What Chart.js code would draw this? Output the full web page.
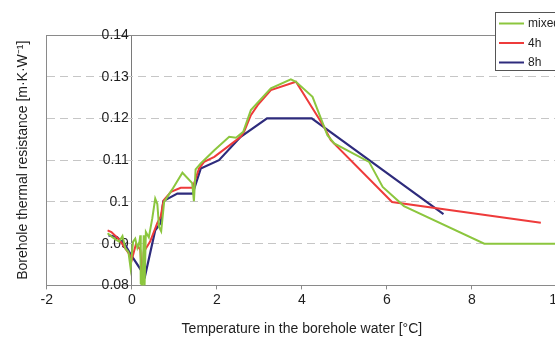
<!DOCTYPE html>
<html>
<head>
<meta charset="utf-8">
<script src="https://cdn.jsdelivr.net/npm/chart.js@4/dist/chart.umd.min.js"></script>
<style>
  html, body { margin: 0; padding: 0; background: #fff; overflow: hidden; }
  #wrap { width: 555px; height: 341px; overflow: hidden; }
</style>
</head>
<body>
<div id="wrap"><canvas id="chart" width="620" height="341"></canvas></div>
<script>
// series: temperature [C] and resistance [m K/W]
var mixedT = [-0.57, -0.45, -0.38, -0.3, -0.22, -0.15, -0.08, -0.03, 0.03, 0.08, 0.13, 0.18, 0.2, 0.21, 0.25, 0.28, 0.3, 0.33, 0.4, 0.48, 0.55, 0.6, 0.64, 0.69, 0.76, 0.95, 1.19, 1.42, 1.46, 1.5, 1.62, 1.94, 2.29, 2.45, 2.62, 2.8, 3.27, 3.74, 3.86, 4.25, 4.6, 4.76, 5.58, 5.9, 6.4, 8.29, 10];
var mixedR = [0.0925, 0.0915, 0.0910, 0.0905, 0.0918, 0.0888, 0.0880, 0.0842, 0.0905, 0.0912, 0.0890, 0.0905, 0.0920, 0.0805, 0.0800, 0.0920, 0.0800, 0.0928, 0.0915, 0.0960, 0.1008, 0.0995, 0.0940, 0.0930, 0.1000, 0.1030, 0.1070, 0.1045, 0.1002, 0.1078, 0.1092, 0.1124, 0.1156, 0.1154, 0.1168, 0.1220, 0.1272, 0.1294, 0.1288, 0.1252, 0.1160, 0.1140, 0.1096, 0.1036, 0.0990, 0.0900, 0.0900];

var h4T = [-0.57, -0.48, -0.3, -0.06, 0.0, 0.1, 0.2, 0.25, 0.28, 0.43, 0.6, 0.68, 0.72, 0.75, 0.92, 1.15, 1.43, 1.58, 1.7, 1.94, 2.25, 2.56, 2.64, 2.8, 2.96, 3.27, 3.86, 4.52, 4.68, 6.12, 9.62];
var h4R = [0.0932, 0.0928, 0.0910, 0.0875, 0.0862, 0.0900, 0.0885, 0.0812, 0.0880, 0.0905, 0.0950, 0.0965, 0.0990, 0.1004, 0.1024, 0.1034, 0.1034, 0.1080, 0.1096, 0.1108, 0.1132, 0.1156, 0.1168, 0.1208, 0.1232, 0.1268, 0.1288, 0.1180, 0.1148, 0.1000, 0.0950];

var h8T = [-0.55, -0.35, -0.15, 0.0, 0.31, 0.55, 0.68, 0.74, 1.07, 1.43, 1.62, 2.05, 2.56, 3.18, 4.23, 7.33];
var h8R = [0.0920, 0.0916, 0.0896, 0.0870, 0.0822, 0.0932, 0.0950, 0.1002, 0.1020, 0.1020, 0.1080, 0.1100, 0.1156, 0.1200, 0.1200, 0.0971];

var seriesNames = ['mixed', '4h', '8h'];
var seriesColors = ['#8cc63e', '#ee3b3b', '#2e2b7c'];

var xTickLabels = ['-2', '0', '2', '4', '6', '8', '10'];
var yTickLabels = ['0.08', '0.09', '0.1', '0.11', '0.12', '0.13', '0.14'];

var xTitle = 'Temperature in the borehole water [\u00B0C]';
var yTitle = 'Borehole thermal resistance [m\u00B7K\u00B7W\u207B\u00B9]';

function toPoints(xs, ys) {
    return xs.map(function(x, i) { return {x: x, y: ys[i]}; });
}

var font = {family: '"Liberation Sans", Arial, sans-serif', size: 14};
var textColor = '#1e1e1e';
var frameColor = '#8a8a8a';
var clear = 'rgba(0,0,0,0)';

// legend box drawn inside the plot, top right, like the original
var boxLegend = {
    id: 'boxLegend',
    afterDraw: function(chart) {
        var ctx = chart.ctx;
        var x = 495.5, y = 12.5, w = 90, h = 58;
        ctx.save();
        ctx.fillStyle = '#fff';
        ctx.fillRect(x, y, w, h);
        ctx.strokeStyle = '#555';
        ctx.lineWidth = 1;
        ctx.strokeRect(x, y, w, h);
        ctx.font = '12px "Liberation Sans", Arial, sans-serif';
        ctx.textBaseline = 'middle';
        chart.data.datasets.forEach(function(ds, i) {
            var ly = 23.5 + i * 19.5;
            ctx.strokeStyle = ds.borderColor;
            ctx.lineWidth = 2;
            ctx.beginPath();
            ctx.moveTo(499, ly);
            ctx.lineTo(524, ly);
            ctx.stroke();
            ctx.fillStyle = textColor;
            ctx.fillText(ds.label, 528, ly + 0.5);
        });
        ctx.restore();
    }
};

new Chart(document.getElementById('chart'), {
    type: 'line',
    data: {
        datasets: [
            {label: seriesNames[0], data: toPoints(mixedT, mixedR), borderColor: seriesColors[0], borderWidth: 2},
            {label: seriesNames[1], data: toPoints(h4T, h4R), borderColor: seriesColors[1], borderWidth: 2},
            {label: seriesNames[2], data: toPoints(h8T, h8R), borderColor: seriesColors[2], borderWidth: 2.2}
        ]
    },
    options: {
        responsive: false,
        animation: false,
        elements: {
            point: {radius: 0},
            line: {tension: 0, fill: false}
        },
        layout: {padding: {left: 1, top: 35, right: 63, bottom: 0}},
        plugins: {
            legend: {display: false},
            tooltip: {enabled: false}
        },
        scales: {
            x: {
                type: 'linear',
                position: 'bottom',
                min: -2,
                max: 10,
                ticks: {
                    stepSize: 2,
                    padding: 2,
                    color: textColor,
                    font: font,
                    maxRotation: 0,
                    callback: function(v, i) { return xTickLabels[i]; }
                },
                // only the vertical line at 0 is drawn, like the crossing axis in the original
                grid: {
                    drawTicks: true,
                    tickLength: 4,
                    tickColor: frameColor,
                    color: function(c) { return c.tick && c.tick.value === 0 ? '#7a7a7a' : clear; }
                },
                border: {color: frameColor, width: 1},
                title: {display: true, text: xTitle, color: textColor, font: font, padding: {top: 11, bottom: 3}}
            },
            xTop: {
                type: 'linear',
                position: 'top',
                min: -2,
                max: 10,
                ticks: {display: false},
                grid: {drawOnChartArea: false, drawTicks: false},
                border: {color: frameColor, width: 1}
            },
            y: {
                type: 'linear',
                position: 'left',
                min: 0.08,
                max: 0.14,
                ticks: {display: false, stepSize: 0.01},
                grid: {
                    drawTicks: false,
                    color: function(c) {
                        var n = yTickLabels.length - 1;
                        return (c.index === 0 || c.index === n) ? clear : '#c6c6c6';
                    }
                },
                border: {color: frameColor, width: 1, dash: [8, 5]},
                title: {display: true, text: yTitle, color: textColor, font: font, padding: {top: 14, bottom: 15}}
            },
            yZero: {
                type: 'linear',
                position: {x: -0.07},
                min: 0.08,
                max: 0.14,
                ticks: {
                    stepSize: 0.01,
                    color: textColor,
                    font: font,
                    callback: function(v, i) { return yTickLabels[i]; }
                },
                grid: {drawOnChartArea: false, drawTicks: false},
                border: {display: false}
            }
        }
    },
    plugins: [boxLegend]
});
</script>
</body>
</html>
